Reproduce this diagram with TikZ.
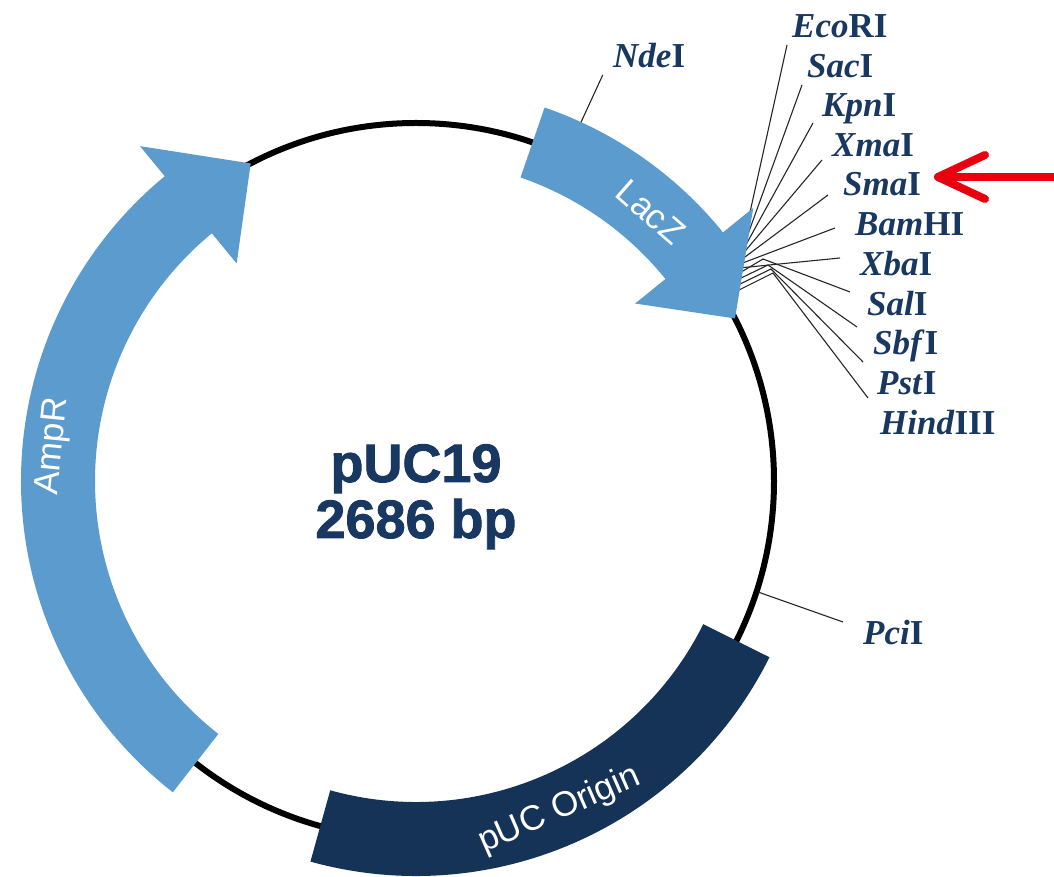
\documentclass[tikz,border=0pt]{standalone}
\usepackage{fontspec}
\setmainfont{Liberation Serif}
\setsansfont{Liberation Sans}
\newfontfamily\titlefont{Liberation Sans}[FakeBold=1.6]
\usepackage{tikz}

\definecolor{genblue}{RGB}{92,155,206}
\definecolor{orinavy}{RGB}{21,50,87}
\definecolor{textnavy}{RGB}{24,55,97}
\definecolor{arrowred}{RGB}{232,0,16}

\tikzset{
  ring/.style={line width=6pt, black},
  gene/.style={fill=genblue},
  oriband/.style={fill=orinavy},
  genetext/.style={white, font=\sffamily\fontsize{35}{40}\selectfont, inner sep=0pt},
  sitelabel/.style={textnavy, font=\bfseries\fontsize{35}{40}\selectfont, inner sep=0pt, anchor=base west},
  siteline/.style={line width=1.1pt, black!85},
  maptitle/.style={textnavy, font=\titlefont\bfseries\fontsize{54}{60}\selectfont, inner sep=0pt, anchor=base},
  redarrow/.style={arrowred, line width=8pt, line cap=round, line join=round},
}

\begin{document}
\begin{tikzpicture}[x=1pt,y=1pt]

    % ring radii
    \def\rin{321}
    \def\rmid{358}
    \def\rout{395}
    \def\hin{282}
    \def\hout{434}

    \useasboundingbox (-416,-396) rectangle (638,481);

    % plasmid backbone
    \draw[ring] (0,0) circle[radius=\rmid pt];

    % NdeI and PciI sites
    \coordinate (nde-site) at (65.3:390);
    \coordinate (nde-end) at (65.3:447);
    \draw[siteline] (nde-site) -- (nde-end);
    \node[sitelabel] (nde) at (197,413) {\textit{Nde}I};

    \coordinate (pci-site) at (342,-111);
    \coordinate (pci-end) at (427,-141);
    \draw[siteline] (pci-site) -- (pci-end);
    \node[sitelabel] (pci) at (447,-164) {\textit{Pci}I};

    % multiple cloning site, straight lines
    \foreach \nm/\sx/\sy/\ex/\ey in {eco/327/237/371/436, sac/327/233/386/396,
        kpn/326/229/397/358, xma/325/225/406/321, sma/325/221/412/286,
        bam/324/217/419/253, xba/323/213/424/223} {
      \coordinate (\nm-site) at (\sx,\sy);
      \coordinate (\nm-end) at (\ex,\ey);
      \draw[siteline] (\nm-site) -- (\nm-end);
    }

    % multiple cloning site, bent lines
    \foreach \nm/\sx/\sy/\kx/\ky/\ex/\ey in {sal/322/207/347/222/434/189,
        sbf/321/201/352/216/441/154, pst/320/195/355/212/447/119,
        hind/319/189/357/208/452/83} {
      \coordinate (\nm-site) at (\sx,\sy);
      \coordinate (\nm-kink) at (\kx,\ky);
      \coordinate (\nm-end) at (\ex,\ey);
      \draw[siteline] (\nm-site) -- (\nm-kink) -- (\nm-end);
    }

    % enzyme names
    \foreach \nm/\en/\rn/\lx/\ly in {eco/Eco/RI/376/443, sac/Sac/I/391/403,
        kpn/Kpn/I/406/364, xma/Xma/I/416/324, sma/Sma/I/427/285,
        bam/Bam/HI/439/245, xba/Xba/I/444/205, sal/Sal/I/451/165,
        sbf/Sbf/I/457/126, pst/Pst/I/461/86, hind/Hind/III/464/46}
      \node[sitelabel] (\nm) at (\lx,\ly) {\textit{\en}\rn};

    % AmpR arrow
    \fill[gene] (232:\rout) arc[start angle=232, end angle=129.5, radius=\rout pt]
        -- (129.5:\hout) -- (117.5:\rmid) -- (129.5:\hin) -- (129.5:\rin)
        arc[start angle=129.5, end angle=232, radius=\rin pt] -- cycle;
    \node[genetext, rotate=84.5] (amp) at (174.5:364) {AmpR};

    % LacZ arrow
    \fill[gene] (71:\rout) arc[start angle=71, end angle=39, radius=\rout pt]
        -- (39:\hout) -- (27:\rmid) -- (39:\hin) -- (39:\rin)
        arc[start angle=39, end angle=71, radius=\rin pt] -- cycle;
    \node[genetext, rotate=-41.1] (lac) at (48.9:357) {LacZ};

    % pUC origin
    \fill[oriband] (-105.5:\rout) arc[start angle=-105.5, end angle=-26.5, radius=\rout pt]
        -- (-26.5:\rin) arc[start angle=-26.5, end angle=-105.5, radius=\rin pt] -- cycle;
    \node[genetext, rotate=23.6] (ori) at (-66.4:359) {pUC Origin};

    % name and size
    \node[maptitle] (name) at (0,-1) {pUC19};
    \node[maptitle] (size) at (0,-57) {2686 bp};

    % red pointer to SmaI
    \coordinate (arrowtail) at (642,304);
    \coordinate (arrowtip) at (522,304);
    \coordinate (barbup) at (569,326);
    \coordinate (barbdown) at (569,282);
    \draw[redarrow] (arrowtail) -- (arrowtip);
    \draw[redarrow] (barbup) -- (arrowtip) -- (barbdown);

\end{tikzpicture}
\end{document}
